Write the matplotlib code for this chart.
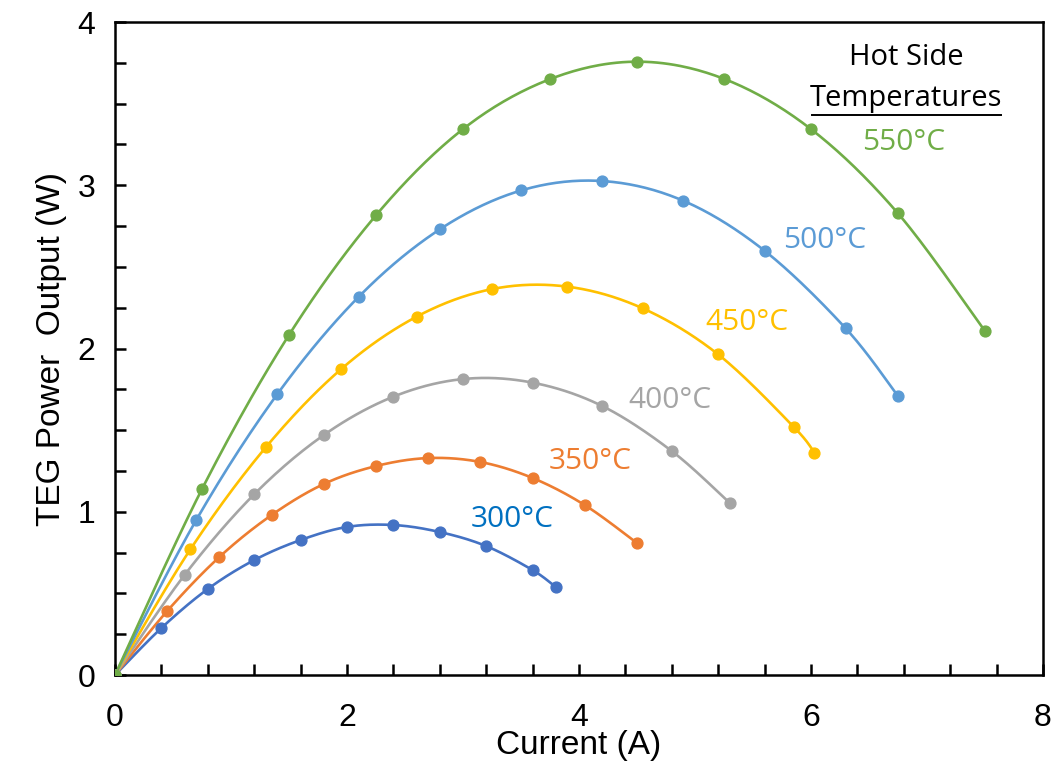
import numpy as np
import matplotlib
matplotlib.use("Agg")
import matplotlib.pyplot as plt
from matplotlib.ticker import MultipleLocator, FixedLocator

# ---- data ----
labels = ["300°C", "350°C", "400°C", "450°C", "500°C", "550°C"]
colors = ["#4472C4", "#ED7D31", "#A5A5A5", "#FFC000", "#5B9BD5", "#70AD47"]
text_colors = ["#0070C0", "#ED7D31", "#A5A5A5", "#FFC000", "#5B9BD5", "#70AD47"]

i300 = [0, 0.4, 0.8, 1.2, 1.6, 2.0, 2.4, 2.8, 3.2, 3.6, 3.8]
p300 = [0, 0.288, 0.527, 0.704, 0.827, 0.907, 0.919, 0.876, 0.790, 0.643, 0.539]
i350 = [0, 0.45, 0.9, 1.35, 1.8, 2.25, 2.7, 3.15, 3.6, 4.05, 4.5]
p350 = [0, 0.392, 0.723, 0.980, 1.170, 1.280, 1.329, 1.305, 1.207, 1.041, 0.809]
i400 = [0, 0.6, 1.2, 1.8, 2.4, 3.0, 3.6, 4.2, 4.8, 5.3]
p400 = [0, 0.613, 1.107, 1.470, 1.705, 1.813, 1.791, 1.648, 1.372, 1.054]
i450 = [0, 0.65, 1.3, 1.95, 2.6, 3.25, 3.9, 4.55, 5.2, 5.85, 6.03]
p450 = [0, 0.770, 1.395, 1.874, 2.195, 2.364, 2.379, 2.246, 1.964, 1.521, 1.362]
i500 = [0, 0.7, 1.4, 2.1, 2.8, 3.5, 4.2, 4.9, 5.6, 6.3, 6.75]
p500 = [0, 0.949, 1.721, 2.316, 2.730, 2.968, 3.026, 2.905, 2.599, 2.123, 1.709]
i550 = [0, 0.75, 1.5, 2.25, 3.0, 3.75, 4.5, 5.25, 6.0, 6.75, 7.5]
p550 = [0, 1.139, 2.083, 2.816, 3.344, 3.650, 3.757, 3.652, 3.344, 2.828, 2.107]

series_i = [i300, i350, i400, i450, i500, i550]
series_p = [p300, p350, p400, p450, p500, p550]

label_pos = [(3.42, 0.95), (4.1, 1.31), (4.78, 1.68), (5.45, 2.16), (6.12, 2.66), (6.8, 3.26)]

x_ticks = [0, 2, 4, 6, 8]
y_ticks = [0, 1, 2, 3, 4]


def smooth(x, y, n=30):
    """Bezier smoothing of the line through the data points (like Excel smoothed lines)."""
    pts = np.column_stack([np.asarray(x, float), np.asarray(y, float)])
    P = np.vstack([pts[0], pts, pts[-1]])
    out = []
    for k in range(1, len(P) - 2):
        p0, p1, p2, p3 = P[k - 1], P[k], P[k + 1], P[k + 2]
        t = np.linspace(0, 1, n, endpoint=False)[:, None]
        c1 = p1 + (p2 - p0) / 6.0
        c2 = p2 - (p3 - p1) / 6.0
        seg = ((1 - t) ** 3) * p1 + 3 * ((1 - t) ** 2) * t * c1 + 3 * (1 - t) * t ** 2 * c2 + t ** 3 * p2
        out.append(seg)
    out.append(pts[-1][None, :])
    out = np.vstack(out)
    return out[:, 0], out[:, 1]


fig = plt.figure(figsize=(10.52, 7.67), dpi=100)
ax = fig.add_axes([0.1093, 0.1199, 0.8821, 0.8514])

for xs, ys, c in zip(series_i, series_p, colors):
    sx, sy = smooth(xs, ys)
    ax.plot(sx, sy, color=c, lw=1.9, solid_capstyle="round", zorder=2)
    ax.plot(xs, ys, "o", color=c, ms=7.8, mec=c, zorder=3)

for (lx, ly), lab, c in zip(label_pos, labels, text_colors):
    ax.text(lx, ly, lab, color=c, fontsize=21.5, family="Open Sans", ha="center", va="center")

ax.text(6.82, 3.78, "Hot Side", fontsize=21, family="Open Sans", ha="center", va="center", color="black")
ax.text(6.82, 3.53, "Temperatures", fontsize=21, family="Open Sans", ha="center", va="center", color="black")
ax.plot([6.01, 7.64], [3.432, 3.432], color="black", lw=1.4, clip_on=False)

ax.set_xlim(0, 8)
ax.set_ylim(0, 4)
ax.xaxis.set_major_locator(FixedLocator(x_ticks))
ax.yaxis.set_major_locator(FixedLocator(y_ticks))
ax.xaxis.set_minor_locator(MultipleLocator(0.4))
ax.yaxis.set_minor_locator(MultipleLocator(0.25))
ax.tick_params(which="both", direction="in", length=8, width=1.8, colors="black",
               top=False, right=False)
ax.tick_params(axis="x", which="major", labelsize=23, pad=20)
ax.tick_params(axis="y", which="major", labelsize=23, pad=14)
for lab in ax.get_xticklabels() + ax.get_yticklabels():
    lab.set_family("Liberation Sans")
for s in ax.spines.values():
    s.set_linewidth(1.8)
    s.set_color("black")

ax.set_xlabel("Current (A)", fontsize=24, family="Liberation Sans", labelpad=-2)
ax.set_ylabel("TEG Power  Output (W)", fontsize=24, family="Liberation Sans", labelpad=8)

fig.savefig("out.png", dpi=100)
